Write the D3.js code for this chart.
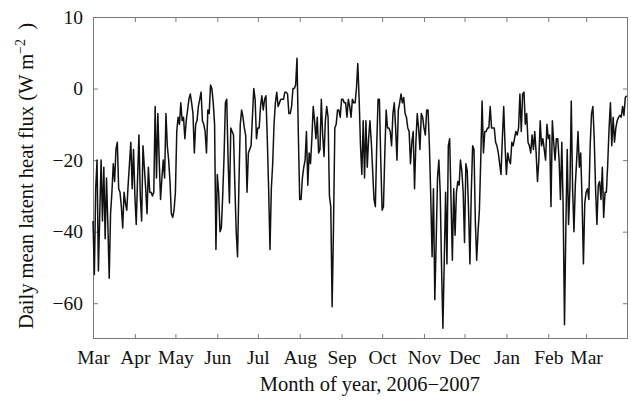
<!DOCTYPE html>
<html>
<head>
<meta charset="utf-8">
<script src="https://cdn.jsdelivr.net/npm/d3@7"></script>
<style>
  body { margin: 0; background: #fff; }
  svg { display: block; }
  text { font-family: "Liberation Serif", "Times New Roman", serif; fill: #111; }
</style>
</head>
<body>
<svg id="chart" width="631" height="401"></svg>
<script>
// Daily mean latent heat flux (W m^-2), one value per day starting 1 March 2006
const startDate = "2006-03-01";
const endDate = "2007-04-01";

const fluxMar06 = [-37, -52, -28, -20, -51, -35, -20, -37, -22, -42, -25, -38, -53, -35, -29, -21, -26, -17, -15, -28, -29, -33, -39, -29, -32, -34, -27, -21, -15, -28, -17];
const fluxApr06 = [-30, -38, -25, -13, -30, -37, -16, -22, -28, -35, -22, -29, -29, -30, -29, -5, -25, -7, -20, -31, -25, -20, -25, -7, -16, -20, -26, -35, -36, -34];
const fluxMay06 = [-29, -12, -8, -10, -4, -9, -8, -14, -9, -6, -3, -1.5, -4, -7, -18, -10, -9, -5, -3, -1, -9, -10, -12, -18, -6, -7, 1, 0, -4, -10, -45];
const fluxJun06 = [-24, -29, -40, -39, -30, -19, -4, -3, -20, -32, -11, -12, -13, -27, -40, -47, -27, -10, -6, -8, -11, -13, -29, -18, -17, -16, -8, 0, -3, -14];
const fluxJul06 = [-11, -11, -5, -2, -6, -3, -2, -14, -28, -45, -28, -21, -10, -4, -1, -5, -4, -3, -3, -3, -1, -1, -1.5, -7, -7, -5, 0, 0, 1, 8.5, -13];
const fluxAug06 = [-31, -31, -25, -22, -20, -12, -27, -18, -21, -14, -5, -9, -14, -8, -18, -17, -3, -13, -19, -9, -5, -8, -30, -33, -61, -39, -11, -10, -6, -6, -8];
const fluxSep06 = [-3, -3, -4, -4, -8, -3, -5, -8, -3, -4, -4, 0, 7, -3, -16, -24, -9, -25, -9, -22, -14, -9, -15, -23, -31, -33, -16, -3, -3, -20];
const fluxOct06 = [-34, -33, -18, -6, -11, -11, -12, -16, -7, -4, -11, -20, -6, -4, -1.5, -4, -2.5, -7, -8, -11, -12, -21, -15, -12, -28, -15, -7, -11, -17, -7, -8];
const fluxNov06 = [-11, -13, -6, -6, -16, -30, -47, -28, -59, -43, -25, -20, -29, -50, -67, -48, -29, -49, -16, -14, -31, -48, -28, -41, -29, -26, -27, -20, -23, -29];
const fluxDec06 = [-43, -21, -23, -34, -49, -29, -16, -17, -37, -48, -40, -34, -20, -3.5, -18, -12, -12, -11, -11, -5, -11, -11, -11, -15, -16, -18, -21, -24, -14, -5, -16];
const fluxJan07 = [-24, -18, -20, -21, -15, -16, -14, -12, -13, -11, -1.5, -12, -1.5, -1, -10, -7, -15, -16, -18, -13, -17, -12, -18, -26, -20, -9, -16, -14, -17, -20, -10];
const fluxFeb07 = [-14, -13, -33, -9, -15, -20, -14, -14, -20, -31, -15, -33, -66, -39, -17, -38, -28, -3.5, -28, -40, -27, -20, -12, -22, -18, -31, -49, -32];
const fluxMar07 = [-29, -28, -31, -16, -7, -5, -14, -28, -38, -27, -26, -31, -22, -36, -29, -29, -21, -11, -4, -16, -8, -15, -11, -9, -8, -7.5, -8, -5, -7.5, -2.5, -2];

// Axis tick labels
const monthLabels = ["Mar", "Apr", "May", "Jun", "Jul", "Aug", "Sep", "Oct", "Nov", "Dec", "Jan", "Feb", "Mar"];
const yTickValues = [20, 0, -20, -40, -60];
const yTickLabels = ["10", "0", "\u221220", "\u221240", "\u221260"];

const flux = [].concat(fluxMar06, fluxApr06, fluxMay06, fluxJun06, fluxJul06, fluxAug06,
  fluxSep06, fluxOct06, fluxNov06, fluxDec06, fluxJan07, fluxFeb07, fluxMar07);

const parse = d3.utcParse("%Y-%m-%d");
const t0 = parse(startDate);
const t1 = parse(endDate);
const series = flux.map((v, i) => ({ date: d3.utcDay.offset(t0, i), value: v }));
const monthTicks = d3.utcMonth.range(t0, t1);

const W = 631, H = 401;
const m = { left: 93, right: 3, top: 17, bottom: 62 };
const tickFont = 19.5;
const titleFont = 20.5;

const svg = d3.select("#chart");

const x = d3.scaleUtc().domain([t0, t1]).range([m.left, W - m.right]);
const y = d3.scaleLinear().domain([-70, 20]).range([H - m.bottom, m.top]);

const frameColor = "#7a7a7a";

// Bottom axis: inward ticks with month names
const gxb = svg.append("g")
  .attr("transform", `translate(0,${H - m.bottom})`)
  .call(d3.axisBottom(x)
    .tickValues(monthTicks)
    .tickSize(-5)
    .tickPadding(11)
    .tickFormat((d, i) => monthLabels[i]));

// Top axis: inward ticks only
const gxt = svg.append("g")
  .attr("transform", `translate(0,${m.top})`)
  .call(d3.axisTop(x).tickValues(monthTicks).tickSize(-5).tickFormat(""));

// Left axis with value labels
const gyl = svg.append("g")
  .attr("transform", `translate(${m.left},0)`)
  .call(d3.axisLeft(y).tickValues(yTickValues).tickSize(-5).tickPadding(10)
    .tickFormat((d, i) => yTickLabels[i]));

// Right axis: inward ticks only
const gyr = svg.append("g")
  .attr("transform", `translate(${W - m.right},0)`)
  .call(d3.axisRight(y).tickValues(yTickValues).tickSize(-5).tickFormat(""));

[gxb, gxt, gyl, gyr].forEach(g => {
  g.select(".domain").remove();
  g.selectAll(".tick line").attr("stroke", frameColor).attr("stroke-width", 1);
  g.selectAll(".tick text")
    .style("font-family", '"Liberation Serif", "Times New Roman", serif')
    .style("font-size", tickFont + "px")
    .attr("fill", "#111");
});

// Plot frame
svg.append("rect")
  .attr("x", m.left + 0.5)
  .attr("y", m.top + 0.5)
  .attr("width", W - m.left - m.right - 1)
  .attr("height", H - m.top - m.bottom - 1)
  .attr("fill", "none")
  .attr("stroke", frameColor)
  .attr("stroke-width", 1);

// Flux time series
const line = d3.line()
  .x(d => x(d.date))
  .y(d => y(d.value));

svg.append("path")
  .datum(series)
  .attr("fill", "none")
  .attr("stroke", "#111")
  .attr("stroke-width", 1.5)
  .attr("stroke-linejoin", "round")
  .attr("d", line);

// Axis titles
svg.append("text")
  .attr("x", 370)
  .attr("y", 391)
  .attr("text-anchor", "middle")
  .style("font-size", titleFont + "px")
  .text("Month of year, 2006\u22122007");

const yTitle = svg.append("text")
  .attr("transform", `translate(33,176) rotate(-90)`)
  .attr("text-anchor", "middle")
  .style("font-size", titleFont + "px");
yTitle.append("tspan").text("Daily mean latent heat flux (W m");
yTitle.append("tspan").attr("dy", -8).style("font-size", "14px").text("\u22122");
yTitle.append("tspan").attr("dy", 8).text(" \u2009)");
</script>
</body>
</html>
